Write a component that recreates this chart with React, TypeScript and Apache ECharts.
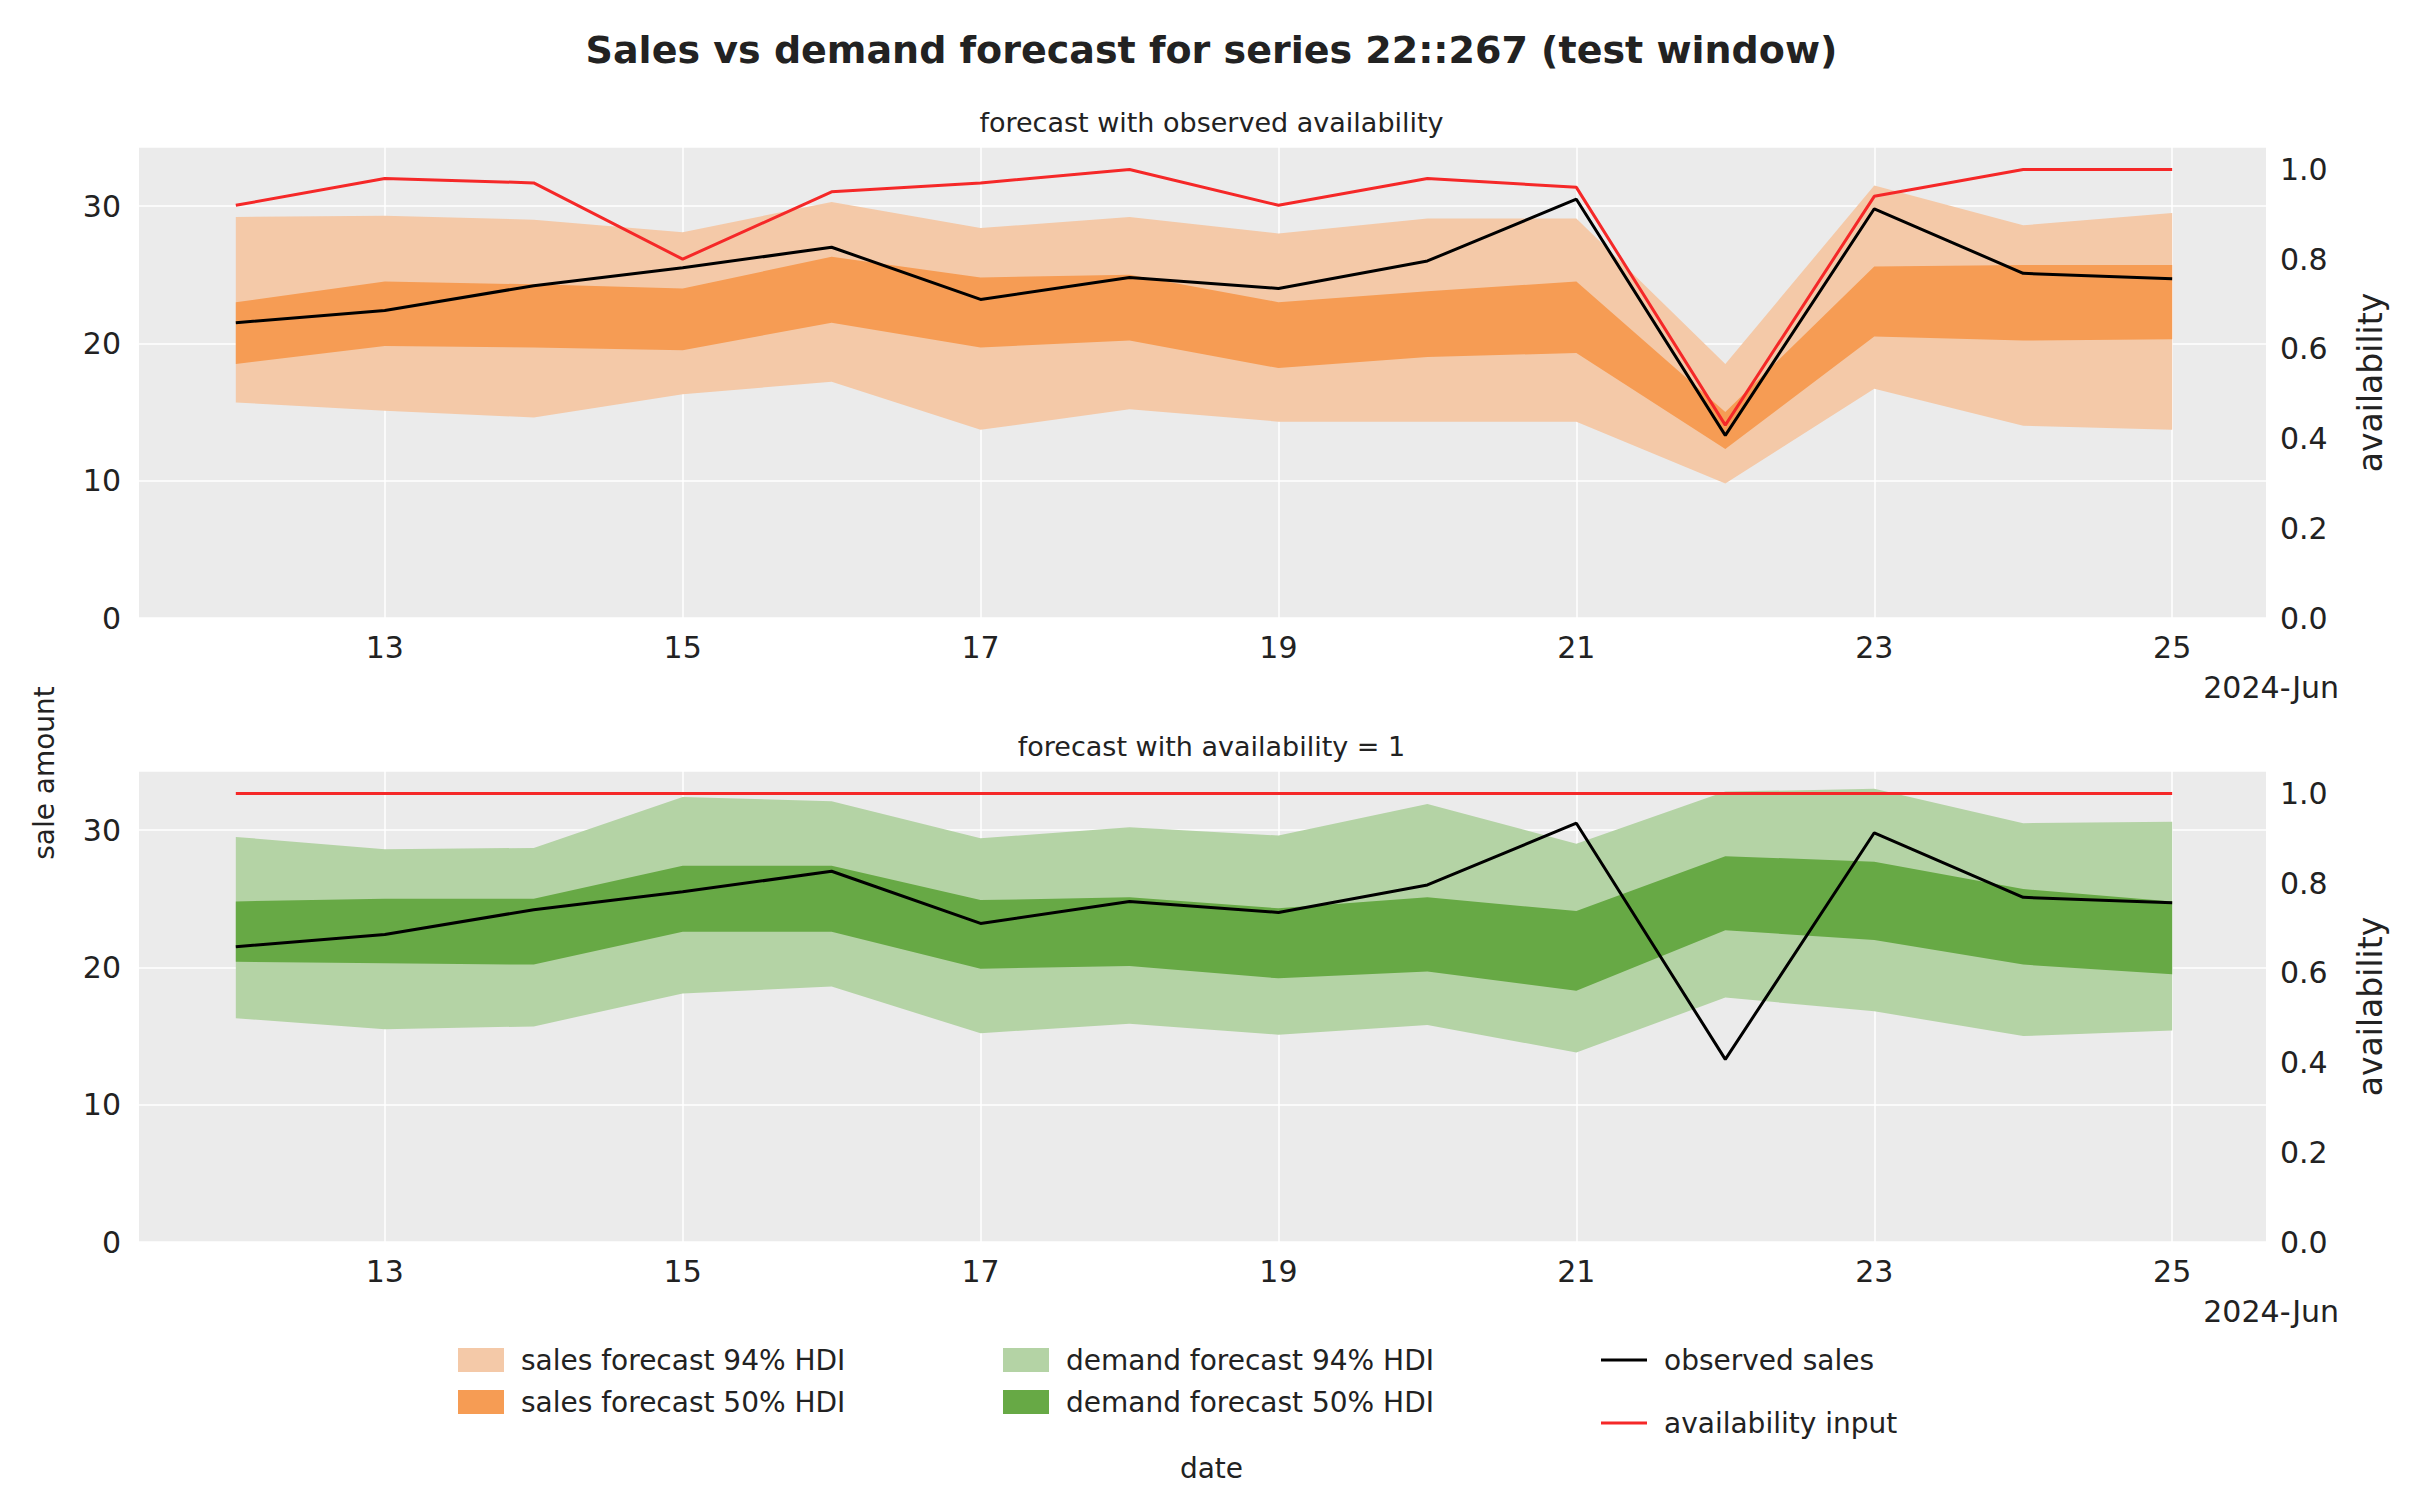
import React, { useEffect, useRef } from "react";
import * as echarts from "echarts";

const days = [12, 13, 14, 15, 16, 17, 18, 19, 20, 21, 22, 23, 24, 25];
const tickDays = [13, 15, 17, 19, 21, 23, 25];
const observedSales = [21.5, 22.4, 24.2, 25.5, 27.0, 23.2, 24.8, 24.0, 26.0, 30.5, 13.3, 29.8, 25.1, 24.7];
const availObserved = [0.92, 0.98, 0.97, 0.8, 0.95, 0.97, 1.0, 0.92, 0.98, 0.96, 0.43, 0.94, 1.0, 1.0];
const availOne = [1, 1, 1, 1, 1, 1, 1, 1, 1, 1, 1, 1, 1, 1];

const sales94Hi = [29.2, 29.3, 29.0, 28.1, 30.3, 28.4, 29.2, 28.0, 29.1, 29.1, 18.5, 31.5, 28.6, 29.5];
const sales94Lo = [15.7, 15.1, 14.6, 16.3, 17.2, 13.7, 15.2, 14.3, 14.3, 14.3, 9.8, 16.7, 14.0, 13.7];
const sales50Hi = [23.0, 24.5, 24.3, 24.0, 26.3, 24.8, 25.0, 23.0, 23.8, 24.5, 15.0, 25.6, 25.7, 25.7];
const sales50Lo = [18.5, 19.8, 19.7, 19.5, 21.5, 19.7, 20.2, 18.2, 19.0, 19.3, 12.3, 20.5, 20.2, 20.3];

const demand94Hi = [29.5, 28.6, 28.7, 32.4, 32.1, 29.4, 30.2, 29.6, 31.9, 29.0, 32.8, 33.0, 30.5, 30.6];
const demand94Lo = [16.3, 15.5, 15.7, 18.1, 18.6, 15.2, 15.9, 15.1, 15.8, 13.8, 17.8, 16.8, 15.0, 15.4];
const demand50Hi = [24.8, 25.0, 25.0, 27.4, 27.4, 24.9, 25.1, 24.3, 25.1, 24.1, 28.1, 27.7, 25.7, 24.8];
const demand50Lo = [20.4, 20.3, 20.2, 22.6, 22.6, 19.9, 20.1, 19.2, 19.7, 18.3, 22.7, 22.0, 20.2, 19.5];

const FONT = "DejaVu Sans";
const TICK = 30;

function pairs(vals: number[]) {
  return days.map((d, i) => [d, vals[i]]);
}

function band(idx: number, name: string, lo: number[], hi: number[], color: string, z: number) {
  return {
    type: "custom", name, xAxisIndex: idx, yAxisIndex: idx * 2, silent: true, z,
    itemStyle: { color },
    data: [[days[0], lo[0]]],
    renderItem: (_p: any, api: any) => {
      const pts = days.map((d, i) => api.coord([d, hi[i]]));
      for (let i = days.length - 1; i >= 0; i--) pts.push(api.coord([days[i], lo[i]]));
      return { type: "polygon", shape: { points: pts }, style: { fill: color } };
    },
  };
}

const App: React.FC = () => {
  const ref = useRef<HTMLDivElement>(null);

  useEffect(() => {
    if (!ref.current) return;
    const chart = echarts.init(ref.current, null, { renderer: "svg" });
    const tops = [139, 763];
    const grids = tops.map((t) => ({ left: 131, right: 149, top: t, height: 471, backgroundColor: "#ebebeb", show: true, borderWidth: 0 }));
    const xAxes = [0, 1].map((i) => ({
      type: "value", gridIndex: i, min: 11.35, max: 25.63,
      axisLine: { show: false }, axisTick: { show: false, customValues: tickDays },
      axisLabel: { customValues: tickDays, fontSize: TICK, color: "#222", fontFamily: FONT, margin: 14 },
      splitLine: { show: true, lineStyle: { color: "#fff", width: 1.5 } },
    }));
    const yAxes: any[] = [];
    [0, 1].forEach((i) => {
      yAxes.push({
        type: "value", gridIndex: i, min: 0, max: 34.3, interval: 10,
        axisLine: { show: false }, axisTick: { show: false },
        axisLabel: { fontSize: TICK, color: "#222", fontFamily: FONT, margin: 18, showMaxLabel: false },
        splitLine: { lineStyle: { color: "#fff", width: 1.5 } },
      });
      yAxes.push({
        type: "value", gridIndex: i, position: "right", min: 0, max: 1.05, interval: 0.2,
        name: "availability", nameLocation: "middle", nameGap: 88, nameRotate: 90,
        nameTextStyle: { fontSize: 33, color: "#222", fontFamily: FONT },
        axisLine: { show: false }, axisTick: { show: false },
        axisLabel: { fontSize: TICK, color: "#222", fontFamily: FONT, margin: 14, showMaxLabel: false, formatter: (v: number) => v.toFixed(1) },
        splitLine: { show: false },
      });
    });
    const lines = (idx: number, avail: number[]) => [
      { type: "line", name: "observed sales", xAxisIndex: idx, yAxisIndex: idx * 2, data: pairs(observedSales), symbol: "none", color: "#000", lineStyle: { color: "#000", width: 3 }, z: 5 },
      { type: "line", name: "availability input", xAxisIndex: idx, yAxisIndex: idx * 2 + 1, data: pairs(avail), symbol: "none", color: "#f52828", lineStyle: { color: "#f52828", width: 3 }, z: 4 },
    ];
    const legendBase = {
      orient: "vertical", itemWidth: 46, itemHeight: 24, itemGap: 14, icon: "rect",
      textStyle: { fontSize: 28, color: "#222", fontFamily: FONT, padding: [0, 0, 0, 12] },
    };
    const option = {
      animation: false,
      textStyle: { fontFamily: FONT },
      title: [
        { text: "Sales vs demand forecast for series 22::267 (test window)", left: "center", top: 18, textStyle: { fontSize: 38, fontWeight: "bold", color: "#222", fontFamily: FONT } },
        { text: "forecast with observed availability", left: "center", top: 96, textStyle: { fontSize: 27, fontWeight: "normal", color: "#222", fontFamily: FONT } },
        { text: "forecast with availability = 1", left: "center", top: 720, textStyle: { fontSize: 27, fontWeight: "normal", color: "#222", fontFamily: FONT } },
      ],
      grid: grids,
      xAxis: xAxes,
      yAxis: yAxes,
      legend: [
        { ...legendBase, left: 445, top: 1333, data: ["sales forecast 94% HDI", "sales forecast 50% HDI"] },
        { ...legendBase, left: 990, top: 1333, data: ["demand forecast 94% HDI", "demand forecast 50% HDI"] },
        { ...legendBase, left: 1588, top: 1333, itemHeight: 3, itemGap: 35, data: ["observed sales", "availability input"] },
      ],
      graphic: [
        { type: "text", right: 76, top: 664, style: { text: "2024-Jun", fontSize: TICK, fill: "#222", fontFamily: FONT } },
        { type: "text", right: 76, top: 1288, style: { text: "2024-Jun", fontSize: TICK, fill: "#222", fontFamily: FONT } },
        { type: "text", left: "center", top: 1446, style: { text: "date", fontSize: 28, fill: "#222", fontFamily: FONT } },
        { type: "text", x: 36, y: 765, rotation: Math.PI / 2, style: { text: "sale amount", fontSize: 28, fill: "#222", fontFamily: FONT, align: "center", verticalAlign: "middle" } },
      ],
      series: [
        band(0, "sales forecast 94% HDI", sales94Lo, sales94Hi, "#f4c9a8", 1),
        band(0, "sales forecast 50% HDI", sales50Lo, sales50Hi, "#f69c54", 2),
        band(1, "demand forecast 94% HDI", demand94Lo, demand94Hi, "#b4d3a5", 1),
        band(1, "demand forecast 50% HDI", demand50Lo, demand50Hi, "#67a945", 2),
        ...lines(0, availObserved),
        ...lines(1, availOne),
      ],
    };
    chart.setOption(option as any);
    return () => chart.dispose();
  }, []);

  return <div ref={ref} style={{ width: 2407, height: 1485, background: "#fff" }} />;
};

export default App;
